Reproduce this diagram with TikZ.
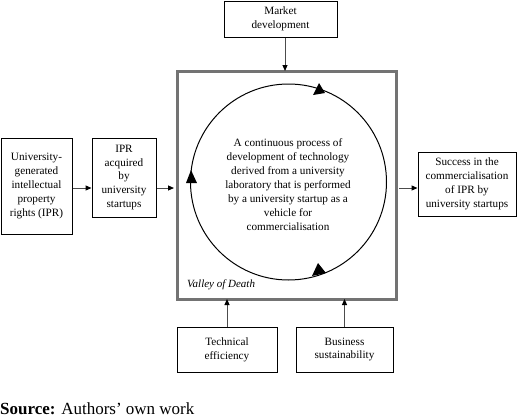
\documentclass[tikz,border=0pt]{standalone}
\usepackage{fontspec}
\setmainfont{Liberation Serif}
\usetikzlibrary{arrows.meta}
\begin{document}
\begin{tikzpicture}[x=1pt,y=-1pt,
  box/.style={draw=black,line width=1pt,inner sep=0pt,align=center,font=\fontsize{11.2}{13.8}\selectfont},
  arr/.style={draw=black!70,line width=1pt,-{Triangle[length=6pt,width=5pt,black]}},
  tri/.style={fill=black}]
\useasboundingbox (0,0) rectangle (520,418);
% main box
\node[draw=black!55,line width=3pt,minimum width=219pt,minimum height=228pt,inner sep=0pt] (main) at (286.5,185) {};
% circle
\node[draw=black,line width=1pt,circle,minimum size=196pt,inner sep=0pt] (cyc) at (288.5,182) {};
\fill[tri] (313,95) -- (319,83) -- (325,93) -- cycle;
\fill[tri] (186,183) -- (191,170) -- (197,183) -- cycle;
\fill[tri] (312,276) -- (318,263) -- (326,273) -- cycle;
\node[align=center,inner sep=0pt,font=\fontsize{11.2}{14}\selectfont] (proc) at (288,185)
  {A continuous process of\\development of technology\\derived from a university\\laboratory that is performed\\by a university startup as a\\vehicle for\\commercialisation};
\node[anchor=base west,inner sep=0pt,font=\fontsize{11}{13}\selectfont\itshape] (vod) at (187,287) {Valley of Death};
% boxes
\node[box,minimum width=71pt,minimum height=96pt] (b1) at (36.5,186) {University-\\generated\\intellectual\\property\\rights (IPR)};
\node[box,minimum width=64pt,minimum height=79pt] (b2) at (124,177.5) {IPR\\acquired\\by\\university\\startups};
\node[box,minimum width=98pt,minimum height=64pt] (b3) at (467,184) {Success in the\\commercialisation\\of IPR by\\university startups};
\node[box,minimum width=113pt,minimum height=36pt] (mk) at (280.5,19) {Market\\development};
\node[box,minimum width=100pt,minimum height=45pt] (te) at (227,349.5) {Technical\\efficiency};
\node[box,minimum width=97pt,minimum height=45pt] (bs) at (344.5,349.5) {Business\\sustainability};
% connectors
\coordinate (ay) at (0,188);
\coordinate (ax) at (285,0);
\draw[arr] (b1.east |- ay) -- (b2.west |- ay);
\draw[arr] (b2.east |- ay) -- ([xshift=-1.5pt]main.west |- ay);
\draw[arr] ([xshift=1.5pt]main.east |- ay) -- (b3.west |- ay);
\draw[arr] (mk.south -| ax) -- ([yshift=-1.5pt]main.north -| ax);
\draw[arr] (te.north) -- ([yshift=1.5pt]te.north |- main.south);
\draw[arr] (bs.north) -- ([yshift=1.5pt]bs.north |- main.south);
% source
\node[anchor=base west,inner sep=0pt,font=\fontsize{17}{19}\selectfont] (src) at (0,414) {\textbf{Source:} Authors’ own work};
\end{tikzpicture}
\end{document}
